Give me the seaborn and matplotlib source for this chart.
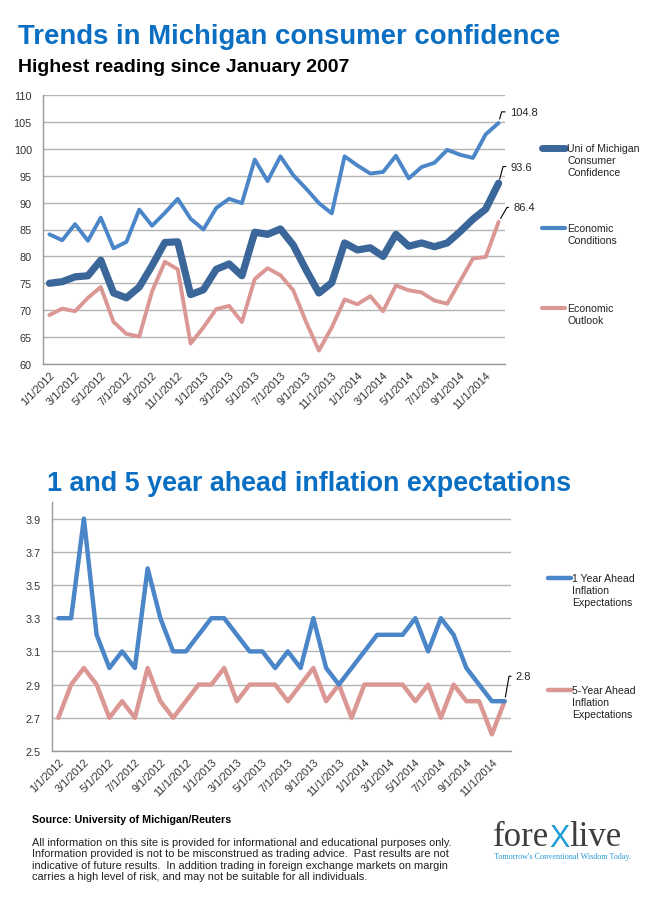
import matplotlib
matplotlib.use("Agg")
import matplotlib.pyplot as plt
import seaborn as sns
import pandas as pd
from matplotlib.lines import Line2D

# monthly readings, Jan 2012 - Dec 2014
dates = ["1/1/2012", "2/1/2012", "3/1/2012", "4/1/2012", "5/1/2012", "6/1/2012",
         "7/1/2012", "8/1/2012", "9/1/2012", "10/1/2012", "11/1/2012", "12/1/2012",
         "1/1/2013", "2/1/2013", "3/1/2013", "4/1/2013", "5/1/2013", "6/1/2013",
         "7/1/2013", "8/1/2013", "9/1/2013", "10/1/2013", "11/1/2013", "12/1/2013",
         "1/1/2014", "2/1/2014", "3/1/2014", "4/1/2014", "5/1/2014", "6/1/2014",
         "7/1/2014", "8/1/2014", "9/1/2014", "10/1/2014", "11/1/2014", "12/1/2014"]

confidence = [75.0, 75.3, 76.2, 76.4, 79.3, 73.2, 72.3, 74.3, 78.3, 82.6, 82.7, 72.9,
              73.8, 77.6, 78.6, 76.4, 84.5, 84.1, 85.1, 82.1, 77.5, 73.2, 75.1, 82.5,
              81.2, 81.6, 80.0, 84.1, 81.9, 82.5, 81.8, 82.5, 84.6, 86.9, 88.8, 93.6]
conditions = [84.1, 83.0, 86.0, 82.9, 87.2, 81.5, 82.7, 88.7, 85.7, 88.1, 90.7, 87.0,
              85.0, 89.0, 90.7, 89.9, 98.0, 94.0, 98.6, 95.1, 92.6, 89.9, 88.0, 98.6,
              96.9, 95.4, 95.7, 98.7, 94.5, 96.6, 97.4, 99.8, 98.9, 98.3, 102.7, 104.8]
outlook = [69.1, 70.3, 69.8, 72.3, 74.3, 67.8, 65.6, 65.1, 73.5, 79.0, 77.6, 63.8,
           66.8, 70.2, 70.8, 67.8, 75.8, 77.8, 76.5, 73.7, 67.8, 62.5, 66.8, 72.0,
           71.1, 72.6, 69.8, 74.6, 73.7, 73.3, 71.8, 71.2, 75.4, 79.6, 79.9, 86.4]

infl_1yr = [3.3, 3.3, 3.9, 3.2, 3.0, 3.1, 3.0, 3.6, 3.3, 3.1, 3.1, 3.2,
            3.3, 3.3, 3.2, 3.1, 3.1, 3.0, 3.1, 3.0, 3.3, 3.0, 2.9, 3.0,
            3.1, 3.2, 3.2, 3.2, 3.3, 3.1, 3.3, 3.2, 3.0, 2.9, 2.8, 2.8]
infl_5yr = [2.7, 2.9, 3.0, 2.9, 2.7, 2.8, 2.7, 3.0, 2.8, 2.7, 2.8, 2.9,
            2.9, 3.0, 2.8, 2.9, 2.9, 2.9, 2.8, 2.9, 3.0, 2.8, 2.9, 2.7,
            2.9, 2.9, 2.9, 2.9, 2.8, 2.9, 2.7, 2.9, 2.8, 2.8, 2.6, 2.8]

conf_labels = ["Uni of Michigan\nConsumer\nConfidence", "Economic\nConditions", "Economic\nOutlook"]
infl_labels = ["1 Year Ahead\nInflation\nExpectations", "5-Year Ahead\nInflation\nExpectations"]

DARK = "#3B6699"
BLUE = "#4A86C8"
PINK = "#DB9794"
TITLE_BLUE = "#0A6FC2"
GRID = "#B4B4B4"

sns.set_style("white")
plt.rcParams["font.family"] = ["Liberation Sans", "DejaVu Sans"]

W, H = 650, 912
fig = plt.figure(figsize=(W / 100, H / 100), dpi=100)


def fx(px):
    return px / W


def fy(py):
    return 1 - py / H


months = list(range(len(dates)))
df_conf = pd.DataFrame({"month": months, "confidence": confidence,
                        "conditions": conditions, "outlook": outlook})
df_infl = pd.DataFrame({"month": months, "one": infl_1yr, "five": infl_5yr})


def style_axes(ax):
    ax.set_xlim(-0.5, len(dates) - 0.5)
    ax.set_xticks(months[::2])
    ax.set_xticklabels(dates[::2], rotation=45, ha="right", rotation_mode="anchor",
                       fontsize=7.8, color="#333333")
    ax.tick_params(axis="both", length=0, pad=4)
    ax.tick_params(axis="y", labelsize=7.8, labelcolor="#333333", pad=8)
    ax.grid(axis="y", color=GRID, lw=1)
    ax.grid(axis="x", visible=False)
    for s in ["top", "right"]:
        ax.spines[s].set_visible(False)
    for s in ["left", "bottom"]:
        ax.spines[s].set_color("#999999")
        ax.spines[s].set_linewidth(1)
    ax.set_xlabel("")
    ax.set_ylabel("")


# ---- top chart: consumer confidence
ax1 = fig.add_axes([fx(43), fy(365), fx(505 - 43), (365 - 96) / H])
sns.lineplot(data=df_conf, x="month", y="outlook", ax=ax1, color=PINK, lw=2.8,
             solid_joinstyle="round")
sns.lineplot(data=df_conf, x="month", y="conditions", ax=ax1, color=BLUE, lw=2.8,
             solid_joinstyle="round")
sns.lineplot(data=df_conf, x="month", y="confidence", ax=ax1, color=DARK, lw=5.2,
             solid_joinstyle="round", solid_capstyle="round")
ax1.set_ylim(60, 110)
ax1.set_yticks(range(60, 111, 5))
style_axes(ax1)

last = len(dates) - 1
leader = dict(arrowstyle="-", color="black", lw=0.8, shrinkA=1, shrinkB=3,
              connectionstyle="angle,angleA=0,angleB=75,rad=0")
ax1.annotate(f"{conditions[-1]:.1f}", xy=(last, conditions[-1]), xytext=(8, 8),
             textcoords="offset points", fontsize=8, va="center", ha="left",
             arrowprops=leader)
ax1.annotate(f"{confidence[-1]:.1f}", xy=(last, confidence[-1]), xytext=(8.5, 12),
             textcoords="offset points", fontsize=8, va="center", ha="left",
             arrowprops=leader)
ax1.annotate(f"{outlook[-1]:.1f}", xy=(last, outlook[-1]), xytext=(10.5, 10.5),
             textcoords="offset points", fontsize=8, va="center", ha="left",
             arrowprops=dict(leader, connectionstyle="angle,angleA=0,angleB=60,rad=0"))

# legend drawn by hand, Excel style
for (ly, col, lw), lab in zip([(149, DARK, 5.0), (229, BLUE, 3.0), (309, PINK, 3.0)], conf_labels):
    fig.add_artist(Line2D([fx(542), fx(565)], [fy(ly), fy(ly)], color=col, lw=lw,
                          transform=fig.transFigure))
    fig.text(fx(567), fy(ly - 5), lab, fontsize=7.6, va="top", ha="left",
             color="#222222", linespacing=1.25)

# ---- bottom chart: inflation expectations
ax2 = fig.add_axes([fx(52), fy(752), fx(511 - 52), (752 - 503) / H])
sns.lineplot(data=df_infl, x="month", y="five", ax=ax2, color=PINK, lw=3.2,
             solid_joinstyle="round")
sns.lineplot(data=df_infl, x="month", y="one", ax=ax2, color=BLUE, lw=3.2,
             solid_joinstyle="round")
ax2.set_ylim(2.5, 4.0)
ax2.set_yticks([2.5, 2.7, 2.9, 3.1, 3.3, 3.5, 3.7, 3.9])
ax2.set_yticklabels([f"{v:.1f}" for v in [2.5, 2.7, 2.9, 3.1, 3.3, 3.5, 3.7, 3.9]])
style_axes(ax2)
ax2.annotate(f"{infl_5yr[-1]:.1f}", xy=(last, infl_5yr[-1]), xytext=(8, 18),
             textcoords="offset points", fontsize=8, va="center", ha="left",
             arrowprops=dict(leader, connectionstyle="angle,angleA=0,angleB=80,rad=0"))

for (ly, col), lab in zip([(579, BLUE), (691, PINK)], infl_labels):
    fig.add_artist(Line2D([fx(548), fx(571)], [fy(ly), fy(ly)], color=col, lw=3.2,
                          transform=fig.transFigure))
    fig.text(fx(572), fy(ly - 5), lab, fontsize=7.6, va="top", ha="left",
             color="#222222", linespacing=1.25)

# ---- titles
title_font = ["Liberation Sans", "DejaVu Sans"]
fig.text(fx(18), fy(44), "Trends in Michigan consumer confidence", fontsize=19.8,
         fontweight="bold", color=TITLE_BLUE, family=title_font, va="baseline")
fig.text(fx(18), fy(72), "Highest reading since January 2007", fontsize=14,
         fontweight="bold", color="black", family=title_font, va="baseline")
fig.text(fx(47), fy(491), "1 and 5 year ahead inflation expectations", fontsize=19.4,
         fontweight="bold", color=TITLE_BLUE, family=title_font, va="baseline")

# ---- footer
fig.text(fx(32), fy(820), "Source: University of Michigan/Reuters", fontsize=7.7,
         fontweight="bold", color="black", va="center")
disclaimer = ("All information on this site is provided for informational and educational purposes only.\n"
              "Information provided is not to be misconstrued as trading advice.  Past results are not\n"
              "indicative of future results.  In addition trading in foreign exchange markets on margin\n"
              "carries a high level of risk, and may not be suitable for all individuals.")
fig.text(fx(32), fy(838), disclaimer, fontsize=7.9, color="#222222", va="top",
         linespacing=1.16)

serif = ["Liberation Serif", "DejaVu Serif"]
t1 = fig.text(fx(493), fy(846), "fore", fontsize=25, color="#3d3d3d", family=serif,
              va="baseline")
t2 = plt.annotate("X", xy=(1, 0), xycoords=t1, fontsize=22, color="#1F9BD7",
                  family=["Liberation Sans", "DejaVu Sans"], va="bottom", ha="left",
                  annotation_clip=False)
plt.annotate("live", xy=(1, 0), xycoords=t2, fontsize=25, color="#3d3d3d",
             family=serif, va="bottom", ha="left", annotation_clip=False)
fig.text(fx(494), fy(859), "Tomorrow's Conventional Wisdom Today.", fontsize=5.9,
         color="#2A9BD3", family=serif, va="baseline")

fig.savefig("out.png", dpi=100, facecolor="white")
